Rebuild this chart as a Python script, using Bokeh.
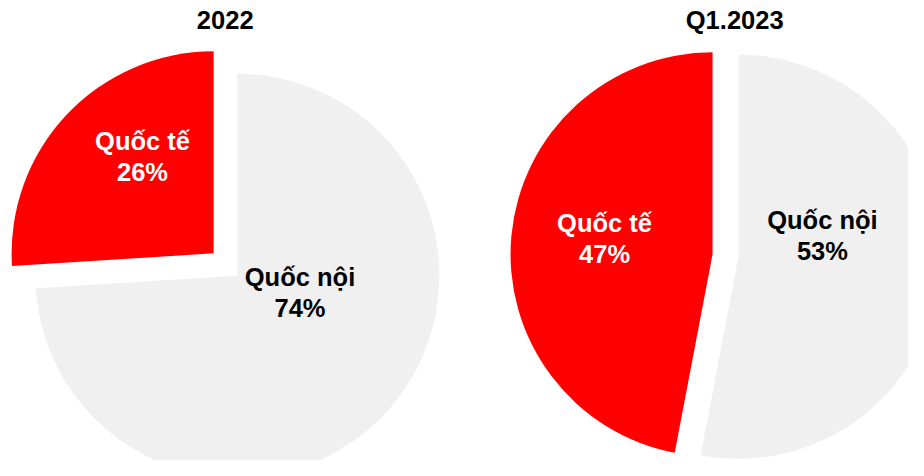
import math
from bokeh.plotting import figure
from bokeh.models import Range1d
from bokeh.core.properties import value
from bokeh.embed import file_html
from bokeh.resources import INLINE

# ---------------- data ----------------
periods = ["2022", "Q1.2023"]
categories = ["Quốc tế", "Quốc nội"]
shares_2022 = [26, 74]
shares_q1_2023 = [47, 53]
series = [shares_2022, shares_q1_2023]

# ---------------- layout / style ----------------
W, H = 908, 460
colors = ["#FF0000", "#F0F0F0"]
text_colors = ["#FFFFFF", "#000000"]
FONT = value("Liberation Sans")
radius = 202
# pie centres in picture pixels (x, y from top)
centres_px = [(225, 264), (725, 255)]
explode = [16.3, 13.0]
title_px = [(224.7, 30), (734.2, 30)]
# label anchor offsets from each slice's apex, in pixels (dx, dy up)
label_offsets = [[(-71.1, 86.3), (62.6, -28.1)],
                 [(-108.0, 4.3), (84.0, 10.0)]]
line_gap = 15.5
text_raise = 11  # baseline correction for the svg text renderer


def to_data(x_px, y_px):
    return x_px, 476 - y_px


p = figure(width=W, height=H, output_backend="svg", toolbar_location=None,
           x_range=Range1d(0, 908), y_range=Range1d(16, 476),
           min_border=0, background_fill_color="white",
           border_fill_color="white")
p.axis.visible = False
p.grid.visible = False
p.outline_line_color = None

for i, vals in enumerate(series):
    total = float(sum(vals))
    cx, cy = to_data(*centres_px[i])
    start = math.pi / 2
    for j, v in enumerate(vals):
        frac = v / total
        end = start + 2 * math.pi * frac
        mid = (start + end) / 2
        ax = cx + explode[i] * math.cos(mid)
        ay = cy + explode[i] * math.sin(mid)
        p.wedge(x=[ax], y=[ay], radius=radius, start_angle=start, end_angle=end,
                direction="anticlock", fill_color=colors[j], line_color=None)
        lx = ax + label_offsets[i][j][0]
        ly = ay + label_offsets[i][j][1] + text_raise
        p.text(x=[lx, lx], y=[ly + line_gap, ly - line_gap],
               text=[categories[j], f"{v}%"],
               text_align="center", text_baseline="alphabetic",
               text_font=FONT, text_font_style="bold", text_font_size="25.5px",
               text_color=text_colors[j])
        start = end
    tx, ty = to_data(*title_px[i])
    p.text(x=[tx], y=[ty + text_raise], text=[periods[i]], text_align="center",
           text_baseline="alphabetic", text_font=FONT, text_font_style="bold",
           text_font_size="25.5px", text_color="#000000")

open("out.html", "w").write(file_html(p, INLINE))
